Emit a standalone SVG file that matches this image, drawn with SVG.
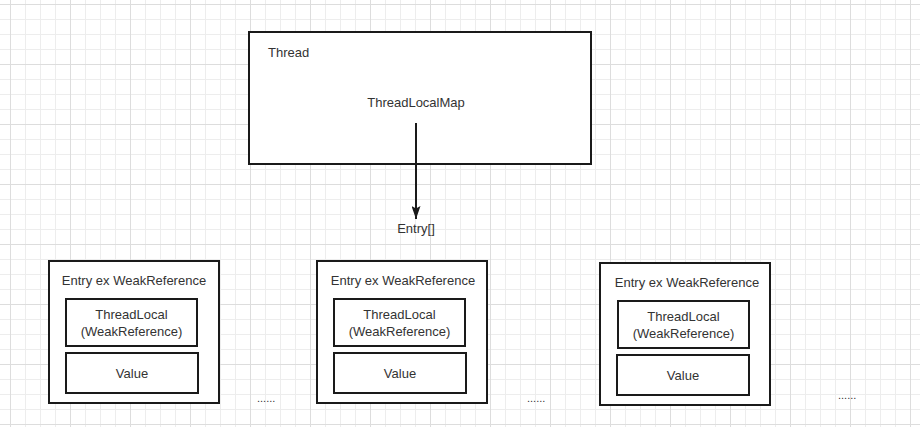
<svg xmlns="http://www.w3.org/2000/svg" width="920" height="427" viewBox="0 0 920 427">
  <defs>
    <marker id="arrow" viewBox="0 0 13 9" refX="13" refY="4.5" markerWidth="13" markerHeight="9" markerUnits="userSpaceOnUse" orient="auto">
      <path d="M0 0 L13 4.5 L0 9 L2.5 4.5 Z" fill="#1a1a1a"/>
    </marker>
  </defs>
  <style>
    .grid { fill: none; stroke-width: 1; shape-rendering: crispEdges; }
    .minor { stroke: #ededed; }
    .major { stroke: #dddddd; }
    .box { fill: #ffffff; stroke: #1a1a1a; stroke-width: 2; }
    .t { font-family: "Liberation Sans", Arial, sans-serif; font-size: 13px; fill: #333333; }
    .c { text-anchor: middle; }
    .dots { font-family: "Liberation Sans", Arial, sans-serif; font-size: 11px; fill: #333333; }
  </style>
  <rect width="920" height="427" fill="#ffffff"/>
  <g id="grid">
    <path class="grid minor" d="M10.5 0V427M25.5 0V427M40.5 0V427M55.5 0V427M70.5 0V427M85.5 0V427M100.5 0V427M115.5 0V427M130.5 0V427M145.5 0V427M160.5 0V427M175.5 0V427M190.5 0V427M205.5 0V427M220.5 0V427M235.5 0V427M250.5 0V427M265.5 0V427M280.5 0V427M295.5 0V427M310.5 0V427M325.5 0V427M340.5 0V427M355.5 0V427M370.5 0V427M385.5 0V427M400.5 0V427M415.5 0V427M430.5 0V427M445.5 0V427M460.5 0V427M475.5 0V427M490.5 0V427M505.5 0V427M520.5 0V427M535.5 0V427M550.5 0V427M565.5 0V427M580.5 0V427M595.5 0V427M610.5 0V427M625.5 0V427M640.5 0V427M655.5 0V427M670.5 0V427M685.5 0V427M700.5 0V427M715.5 0V427M730.5 0V427M745.5 0V427M760.5 0V427M775.5 0V427M790.5 0V427M805.5 0V427M820.5 0V427M835.5 0V427M850.5 0V427M865.5 0V427M880.5 0V427M895.5 0V427M910.5 0V427M0 4.5H920M0 19.5H920M0 34.5H920M0 49.5H920M0 64.5H920M0 79.5H920M0 94.5H920M0 109.5H920M0 124.5H920M0 139.5H920M0 154.5H920M0 169.5H920M0 184.5H920M0 199.5H920M0 214.5H920M0 229.5H920M0 244.5H920M0 259.5H920M0 274.5H920M0 289.5H920M0 304.5H920M0 319.5H920M0 334.5H920M0 349.5H920M0 364.5H920M0 379.5H920M0 394.5H920M0 409.5H920M0 424.5H920"/>
    <path class="grid major" d="M10.5 0V427M70.5 0V427M130.5 0V427M190.5 0V427M250.5 0V427M310.5 0V427M370.5 0V427M430.5 0V427M490.5 0V427M550.5 0V427M610.5 0V427M670.5 0V427M730.5 0V427M790.5 0V427M850.5 0V427M910.5 0V427M0 4.5H920M0 64.5H920M0 124.5H920M0 184.5H920M0 244.5H920M0 304.5H920M0 364.5H920M0 424.5H920"/>
  </g>

  <g id="thread">
    <rect class="box" x="249" y="32" width="342" height="132"/>
    <text class="t" x="268" y="57">Thread</text>
    <text class="t c" x="416" y="107">ThreadLocalMap</text>
  </g>

  <g id="connectors">
    <line x1="416" y1="123" x2="416" y2="219" stroke="#1a1a1a" stroke-width="2" marker-end="url(#arrow)"/>
  </g>

  <g id="entry-array">
    <text class="t c" x="416" y="233">Entry[]</text>
  </g>

  <g id="entry1">
    <rect class="box" x="49" y="261" width="170" height="142"/>
    <text class="t c" x="134" y="285">Entry ex WeakReference</text>
    <rect class="box" x="66" y="299" width="131" height="47"/>
    <text class="t c" x="131.5" y="319">ThreadLocal</text>
    <text class="t c" x="131.5" y="336">(WeakReference)</text>
    <rect class="box" x="66" y="353" width="132" height="40"/>
    <text class="t c" x="132" y="378">Value</text>
  </g>
  <text class="dots" x="257" y="402">......</text>

  <g id="entry2">
    <rect class="box" x="317" y="261" width="170" height="142"/>
    <text class="t c" x="403" y="285">Entry ex WeakReference</text>
    <rect class="box" x="334" y="299" width="131" height="47"/>
    <text class="t c" x="399.5" y="319">ThreadLocal</text>
    <text class="t c" x="399.5" y="336">(WeakReference)</text>
    <rect class="box" x="334" y="353" width="132" height="40"/>
    <text class="t c" x="400" y="378">Value</text>
  </g>
  <text class="dots" x="527" y="402">......</text>

  <g id="entry3">
    <rect class="box" x="600" y="263" width="170" height="142"/>
    <text class="t c" x="687" y="287">Entry ex WeakReference</text>
    <rect class="box" x="618" y="301" width="131" height="47"/>
    <text class="t c" x="683.5" y="321">ThreadLocal</text>
    <text class="t c" x="683.5" y="338">(WeakReference)</text>
    <rect class="box" x="617" y="355" width="132" height="40"/>
    <text class="t c" x="683" y="380">Value</text>
  </g>
  <text class="dots" x="838" y="399">......</text>
</svg>
